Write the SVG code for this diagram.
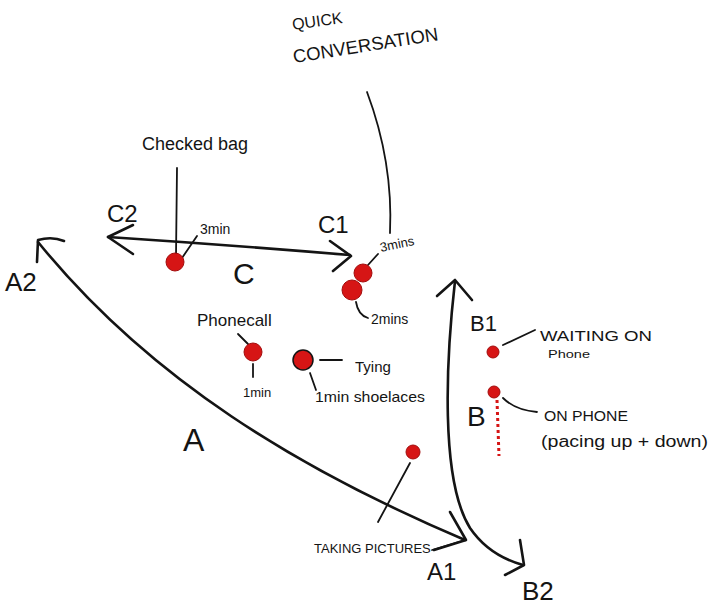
<svg xmlns="http://www.w3.org/2000/svg" width="716" height="608" viewBox="0 0 716 608">
<style>
.ln{fill:none;stroke:#141414;stroke-width:2.6;stroke-linecap:round;stroke-linejoin:round}
.th{fill:none;stroke:#141414;stroke-width:1.8;stroke-linecap:round;stroke-linejoin:round}
.dot{fill:#d61515;stroke:#a30d0d;stroke-width:1}
.t{font-family:"Liberation Sans","DejaVu Sans",sans-serif;fill:#141414}
</style>
<rect width="716" height="608" fill="#ffffff"/>
<g id="connectors">
<path class="ln" d="M38,242 C150,380 300,470 465,540"/>
<path class="ln" d="M37,262 L38,240 Q52,236 64,241"/>
<path class="ln" d="M450,512 L466,540 L434,550"/>
<path class="ln" d="M108,237 Q230,245 350,255"/>
<path class="ln" d="M133,225 L108,237 L133,254"/>
<path class="ln" d="M330,241 L351,256 L333,271"/>
<path class="ln" d="M455,281 C446,360 440,480 470,528 C485,550 505,560 523,565"/>
<path class="ln" d="M437,296 L455,280 L472,300"/>
<path class="ln" d="M520,540 L524,565 L505,575"/>
<path class="th" d="M367,92 C385,140 392,190 390,233"/>
<path class="th" d="M177,168 L176,257"/>
<path class="th" d="M182,258 L197,236"/>
<path class="th" d="M368,265 L378,254"/>
<path class="th" d="M356,302 Q358,315 368,318"/>
<path class="th" d="M238,334 L248,344"/>
<path class="th" d="M253,364 L253,377"/>
<path class="th" d="M320,360 L342,360"/>
<path class="th" d="M310,373 L316,390"/>
<path class="th" d="M503,345 L535,330"/>
<path class="th" d="M503,398 Q515,410 537,412"/>
<path class="th" d="M410,463 L378,522"/>
<path class="th" d="M432,550 L462,541"/>
<path d="M497,400 L499,456" fill="none" stroke="#d61515" stroke-width="3" stroke-dasharray="3 3"/>
</g>
<g id="quick-conversation">
<text class="t" x="293" y="30" font-size="16" transform="rotate(-8 293 30)">QUICK</text>
<text class="t" x="294" y="63" font-size="18.5" transform="rotate(-9 294 63)">CONVERSATION</text>
<circle class="dot" cx="363" cy="273" r="9"/>
<text class="t" x="381" y="252" font-size="13" transform="rotate(-12 381 252)">3mins</text>
<circle class="dot" cx="352" cy="290" r="10"/>
<text class="t" x="371" y="324" font-size="14">2mins</text>
</g>
<g id="checked-bag">
<text class="t" x="142" y="150" font-size="18">Checked bag</text>
<circle class="dot" cx="175" cy="262" r="9"/>
<text class="t" x="200" y="234" font-size="14">3min</text>
</g>
<g id="C">
<text class="t" x="107" y="222" font-size="24">C2</text>
<text class="t" x="318" y="233" font-size="24">C1</text>
<text class="t" x="233" y="284" font-size="30">C</text>
</g>
<g id="A">
<text class="t" x="5" y="291" font-size="26">A2</text>
<text class="t" x="183" y="451" font-size="32">A</text>
<text class="t" x="427" y="580" font-size="24">A1</text>
</g>
<g id="phonecall">
<text class="t" x="197" y="326" font-size="17">Phonecall</text>
<circle class="dot" cx="253" cy="352" r="9"/>
<text class="t" x="243" y="397" font-size="13">1min</text>
</g>
<g id="tying-shoelaces">
<circle cx="303" cy="360" r="10" fill="#d61515" stroke="#141414" stroke-width="1.5"/>
<text class="t" x="355" y="372" font-size="15">Tying</text>
<text class="t" x="315" y="402" font-size="15" textLength="110" lengthAdjust="spacingAndGlyphs">1min shoelaces</text>
</g>
<g id="B">
<text class="t" x="470" y="331" font-size="22">B1</text>
<text class="t" x="467" y="426" font-size="28">B</text>
<text class="t" x="522" y="600" font-size="26">B2</text>
</g>
<g id="waiting-on-phone">
<circle class="dot" cx="493" cy="352" r="6"/>
<text class="t" x="540" y="341" font-size="15" textLength="112" lengthAdjust="spacingAndGlyphs">WAITING ON</text>
<text class="t" x="548" y="358" font-size="11" fill="#555" textLength="42" lengthAdjust="spacingAndGlyphs">Phone</text>
</g>
<g id="on-phone">
<circle class="dot" cx="494" cy="392" r="6"/>
<text class="t" x="544" y="421" font-size="15" textLength="84" lengthAdjust="spacingAndGlyphs">ON PHONE</text>
<text class="t" x="541" y="447" font-size="16" textLength="167" lengthAdjust="spacingAndGlyphs">(pacing up + down)</text>
</g>
<g id="taking-pictures">
<circle class="dot" cx="413" cy="452" r="7"/>
<text class="t" x="314" y="553" font-size="13">TAKING PICTURES</text>
</g>
</svg>
